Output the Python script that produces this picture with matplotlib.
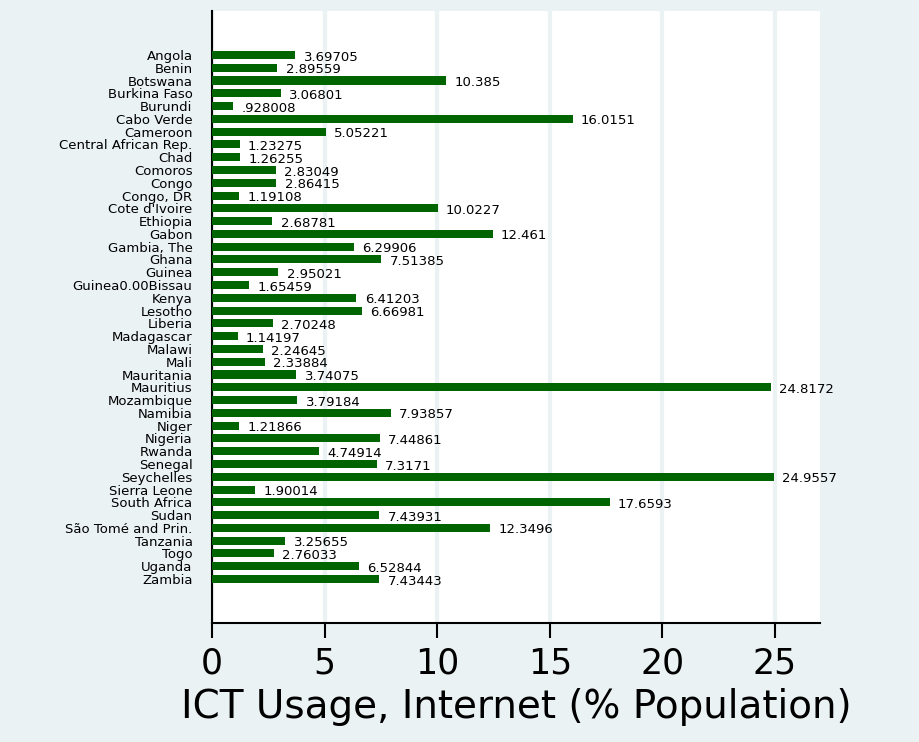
import matplotlib.pyplot as plt

# Internett-bruk (% av befolkningen) per land
land = [
    "Angola", "Benin", "Botswana", "Burkina Faso", "Burundi", "Cabo Verde",
    "Cameroon", "Central African Rep.", "Chad", "Comoros", "Congo", "Congo, DR",
    "Cote d'Ivoire", "Ethiopia", "Gabon", "Gambia, The", "Ghana", "Guinea",
    "Guinea0.00Bissau", "Kenya", "Lesotho", "Liberia", "Madagascar", "Malawi",
    "Mali", "Mauritania", "Mauritius", "Mozambique", "Namibia", "Niger",
    "Nigeria", "Rwanda", "Senegal", "Seychelles", "Sierra Leone", "South Africa",
    "Sudan", "São Tomé and Prin.", "Tanzania", "Togo", "Uganda", "Zambia",
]
internett = [
    3.69705, 2.89559, 10.385, 3.06801, 0.928008, 16.0151,
    5.05221, 1.23275, 1.26255, 2.83049, 2.86415, 1.19108,
    10.0227, 2.68781, 12.461, 6.29906, 7.51385, 2.95021,
    1.65459, 6.41203, 6.66981, 2.70248, 1.14197, 2.24645,
    2.33884, 3.74075, 24.8172, 3.79184, 7.93857, 1.21866,
    7.44861, 4.74914, 7.3171, 24.9557, 1.90014, 17.6593,
    7.43931, 12.3496, 3.25655, 2.76033, 6.52844, 7.43443,
]
x_ticks = [0, 5, 10, 15, 20, 25]


def stata_fmt(v):
    # Stata %g: ingen ledende null
    s = f"{v:g}"
    if s.startswith("0."):
        s = s[1:]
    return s


bg = "#EAF2F3"
gronn = "#006400"
plt.rcParams["font.family"] = ["DejaVu Sans"]

fig = plt.figure(figsize=(9.2, 7.42), dpi=100, facecolor=bg)
ax = fig.add_axes([0.2304, 0.1604, 0.6609, 0.8248])
ax.set_facecolor("white")

pos = list(range(len(land)))
ax.barh(pos, internett, height=0.63, color=gronn, zorder=3)

for p, v in zip(pos, internett):
    ax.annotate(stata_fmt(v), (v, p), xytext=(6, -1.5), textcoords="offset points",
                ha="left", va="center", fontsize=9.5, color="black", zorder=4)

ax.set_yticks(pos)
ax.set_yticklabels(land, fontsize=9.5)
ax.set_ylim(len(land) - 1 + 3.44, -3.44)
ax.tick_params(axis="y", length=0, pad=14)

ax.set_xlim(0, 27)
ax.set_xticks(x_ticks)
ax.set_xticklabels([str(t) for t in x_ticks], fontsize=25)
ax.tick_params(axis="x", length=11, width=1.5, pad=6)
ax.grid(axis="x", color=bg, linewidth=3, zorder=1)
ax.set_xlabel("ICT Usage, Internet (% Population)", fontsize=28, labelpad=5)

for s in ["top", "right"]:
    ax.spines[s].set_visible(False)
ax.spines["left"].set_linewidth(1.5)
ax.spines["bottom"].set_linewidth(1.5)

fig.savefig("out.png", dpi=100, facecolor=bg)
